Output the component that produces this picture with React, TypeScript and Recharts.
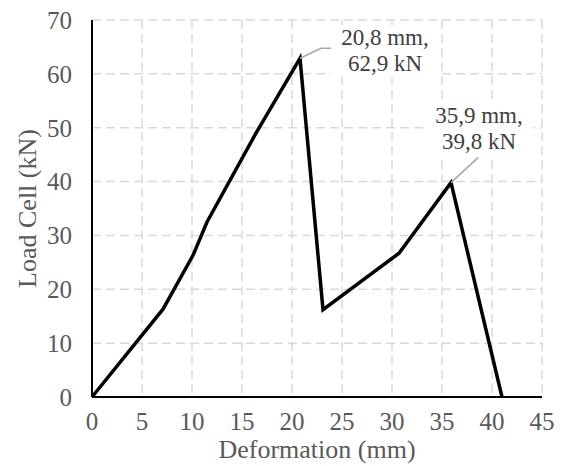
import React from 'react';
import {
  LineChart,
  Line,
  XAxis,
  YAxis,
  CartesianGrid,
  LabelList,
} from 'recharts';

// Deformation (mm) and load cell readings (kN).
const deformation = [0, 7.1, 10.1, 11.5, 16.4, 20.8, 23.1, 30.7, 35.9, 41.0];
const load = [0, 16.3, 26.3, 32.5, 49.0, 62.9, 16.2, 26.7, 39.8, 0];
const xTicks = [0, 5, 10, 15, 20, 25, 30, 35, 40, 45];
const yTicks = [0, 10, 20, 30, 40, 50, 60, 70];
// Points that get an annotation (indices into the arrays above).
const annotated = [5, 8];

const data = deformation.map((d, i) => ({ x: d, y: load[i] }));

const FONT = 'Liberation Serif';
const fmt = (v: number) => v.toFixed(1).replace('.', ',');

const PeakLabel = (props: any) => {
  const { x, y, index } = props;
  if (!annotated.includes(index)) return null;
  const p = data[index];
  const first = annotated.indexOf(index) === 0;
  const leader = first
    ? `M${x},${y} L${x + 21},${y - 10} L${x + 31},${y - 10}`
    : `M${x},${y} L${x + 27},${y - 25}`;
  const cx = first ? x + 85 : x + 28;
  const top = first ? y - 33 : y - 80;
  return (
    <g>
      <rect x={cx - 54} y={top} width={108} height={52} fill="#fff" />
      <path d={leader} stroke="#a6a6a6" strokeWidth={1.5} fill="none" />
      <text x={cx} y={top + 20} textAnchor="middle" fontFamily={FONT} fontSize={23} fill="#404040">
        {`${fmt(p.x)} mm,`}
      </text>
      <text x={cx} y={top + 46} textAnchor="middle" fontFamily={FONT} fontSize={23} fill="#404040">
        {`${fmt(p.y)} kN`}
      </text>
    </g>
  );
};

export default function App() {
  const tick = { fontFamily: FONT, fontSize: 25, fill: '#595959' };
  return (
    <div style={{ position: 'absolute', left: 0, top: 0, background: '#fff' }}>
      <LineChart
        width={562}
        height={466}
        data={data}
        margin={{ top: 20, right: 20, bottom: 0, left: 0 }}
      >
        <CartesianGrid
          stroke="#d9d9d9"
          strokeWidth={1.5}
          strokeDasharray="9 5"
          horizontalValues={yTicks}
          verticalValues={xTicks}
        />
        <XAxis
          type="number"
          dataKey="x"
          domain={[0, 45]}
          ticks={xTicks}
          tickLine={false}
          axisLine={{ stroke: '#000', strokeWidth: 2 }}
          tick={tick}
          tickMargin={9}
          height={69}
          label={{
            value: 'Deformation (mm)',
            position: 'insideBottom',
            offset: 8,
            fontFamily: FONT,
            fontSize: 26,
            fill: '#595959',
          }}
        />
        <YAxis
          type="number"
          domain={[0, 70]}
          ticks={yTicks}
          tickLine={false}
          axisLine={{ stroke: '#000', strokeWidth: 2 }}
          tick={tick}
          tickMargin={14}
          width={92}
          label={{
            value: 'Load Cell (kN)',
            angle: -90,
            position: 'center',
            dx: -19,
            fontFamily: FONT,
            fontSize: 26,
            fill: '#595959',
            textAnchor: 'middle',
          }}
        />
        <Line
          type="linear"
          dataKey="y"
          stroke="#000"
          strokeWidth={3.5}
          dot={false}
          isAnimationActive={false}
        >
          <LabelList dataKey="y" content={PeakLabel} />
        </Line>
      </LineChart>
    </div>
  );
}
